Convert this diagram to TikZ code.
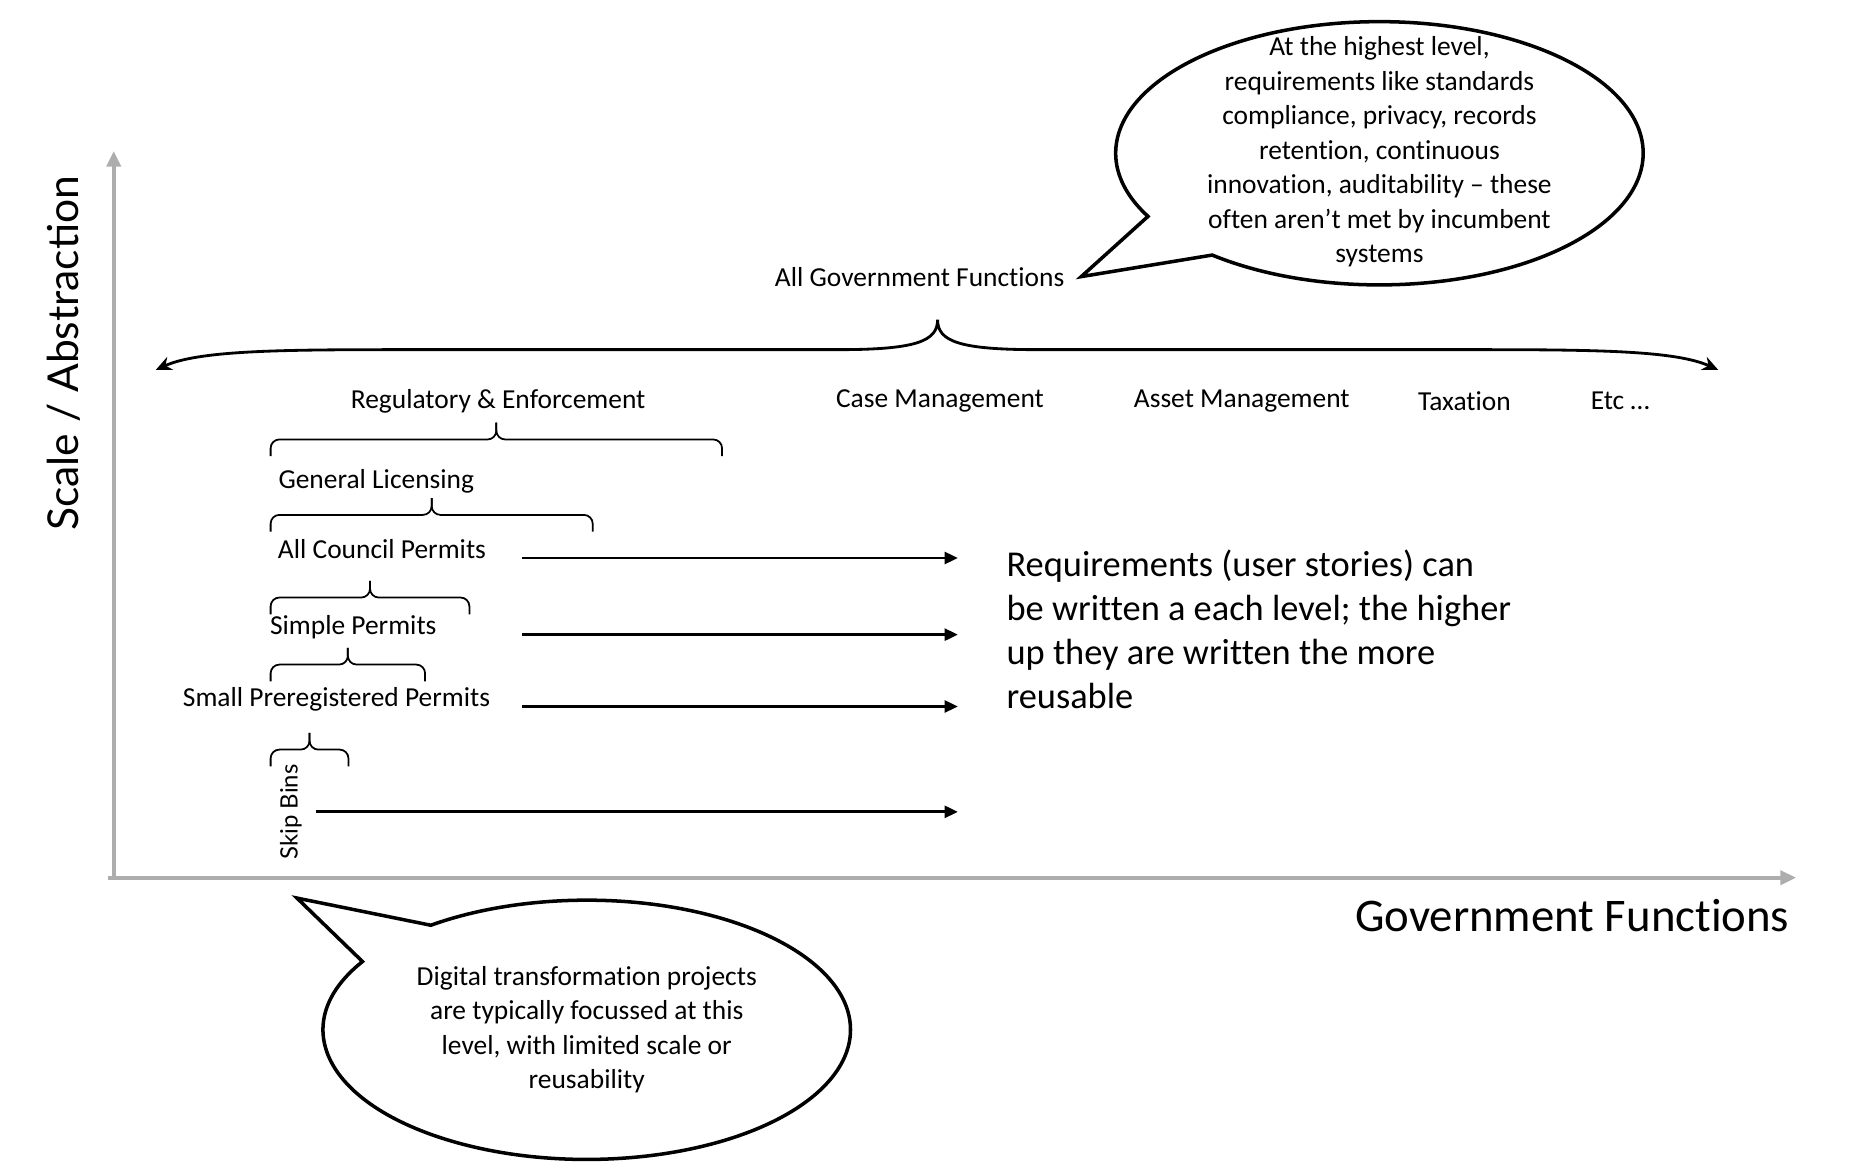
\documentclass[tikz,border=0pt]{standalone}
\usepackage{fontspec}
\setmainfont{Carlito}[Ligatures=CommonOff]
\newfontfamily\axisfont{Lato}
\usetikzlibrary{arrows.meta,shapes.callouts}

\begin{document}
\begin{tikzpicture}[x=0.01197cm,y=-0.01197cm,every node/.style={inner sep=0pt, font=\fontsize{7.8}{9.8}\selectfont},
axis/.style={draw=black!32, line width=1.1pt, -{Triangle[length=4.5pt,width=4pt]}},
flow/.style={line width=0.8pt, -{Triangle[length=3.8pt,width=3.4pt]}},
level/.style={line width=0.5pt, rounded corners=2.5pt},
bubble/.style={ellipse callout, draw, line width=1pt, fill=white, callout pointer arc=22, minimum width=5.27cm}]
\useasboundingbox (0,0) rectangle (1550,979);
% axes
\coordinate (o) at (95,733);
\draw[axis] (90,733) -- (1500,733);
\draw[axis] (o) -- (95,126);
\node[rotate=90, font=\axisfont\fontsize{12.1}{14}\selectfont] (yname) at (53,295) {Scale / Abstraction};
\node[font=\fontsize{13.3}{16}\selectfont] (xname) at (1313,765) {Government Functions};
% top level
\node (allgov) at (768,231) {All Government Functions};
\draw[line width=0.8pt, {Stealth[length=4.5pt,width=4pt]}-{Stealth[length=4.5pt,width=4pt]}] (130,309) .. controls (165,293) and (230,292) .. (330,292) -- (700,292) .. controls (765,292) and (783,285) .. (783,267) .. controls (783,285) and (801,292) .. (866,292) -- (1235,292) .. controls (1335,292) and (1400,293) .. (1435,309);
\node (reg) at (416,335) {Regulatory \& Enforcement};
\node (case) at (785,335) {Case Management};
\node (asset) at (1037,335) {Asset Management};
\node (tax) at (1223,335) {Taxation};
\node (etc) at (1353,335) {Etc …};
% levels under regulatory
\foreach \l/\r/\y in {226/603/381, 226/495/444, 226/392/513, 226/355/569, 226/291/640} {
  \draw[level] (\l,\y) |- ({(\l+\r)/2},\y-14) -- ({(\l+\r)/2},\y-28);
  \draw[level] (\r,\y) |- ({(\l+\r)/2},\y-14) -- ({(\l+\r)/2},\y-28);
}
\node[anchor=base west] (genlic) at (232,408) {General Licensing};
\node[anchor=base] (council) at (319,466) {All Council Permits};
\node[anchor=base] (simple) at (295,530) {Simple Permits};
\node[anchor=base] (small) at (281,590) {Small Preregistered Permits};
\node[rotate=90, font=\axisfont\fontsize{6.8}{8}\selectfont] (skip) at (243,678) {Skip Bins};
% arrows to the note
\draw[flow] (436,0 |- council.base) -- (800,0 |- council.base);
\draw[flow] (436,0 |- simple.base) -- (800,0 |- simple.base);
\draw[flow] (436,0 |- small.base) -- (800,0 |- small.base);
\draw[flow] (264,0 |- skip) -- (800,0 |- skip);
\node[anchor=north west, align=left, font=\fontsize{10.35}{12.45}\selectfont] (req) at (840,459) {Requirements (user stories) can\\be written a each level; the higher\\up they are written the more\\reusable};
% bubbles
\node[bubble, minimum height=2.63cm, callout absolute pointer={(903,231)}] (high) at (1152,128) {};
\node[align=center] (hightext) at (1152,127) {At the highest level,\\requirements like standards\\compliance, privacy, records\\retention, continuous\\innovation, auditability – these\\often aren’t met by incumbent\\systems};
\node[bubble, minimum height=2.59cm, callout absolute pointer={(248,750)}] (low) at (490,860) {};
\node[align=center] (lowtext) at (low) {Digital transformation projects\\are typically focussed at this\\level, with limited scale or\\reusability};
\end{tikzpicture}
\end{document}
